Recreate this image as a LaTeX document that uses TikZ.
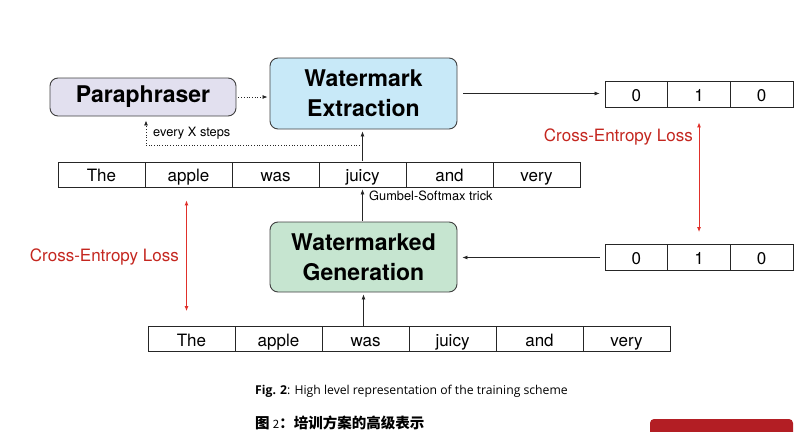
\documentclass[tikz,border=0pt]{standalone}
\usepackage{fontspec}
\setmainfont{TeX Gyre Heros}
\newfontfamily\capfont{Open Sans}
\newfontfamily\cjkfont{Noto Sans CJK SC}
\usetikzlibrary{arrows.meta,positioning,calc}
\definecolor{paraviolet}{HTML}{E2E0EF}
\definecolor{extractblue}{HTML}{C8E9F8}
\definecolor{gengreen}{HTML}{C6E5D0}
\definecolor{lossred}{HTML}{C4261F}
\definecolor{arrowred}{HTML}{E0302A}
\definecolor{btnred}{HTML}{B31E24}
\tikzset{
  modelbox/.style={draw=black!75,line width=0.9pt,rounded corners=8pt,align=center,
    minimum width=187,inner sep=2,font=\fontsize{23}{30}\selectfont\bfseries},
  tokencell/.style={draw=black!85,line width=0.8pt,minimum width=87,minimum height=25,
    inner sep=0,text height=15,text depth=0.5,font=\fontsize{17}{20}\selectfont},
  bitcell/.style={tokencell,minimum width=62.67,minimum height=26},
  thinarrow/.style={-{Latex[length=5pt,width=4pt]},line width=0.7pt,draw=black!85},
  dotarrow/.style={thinarrow,dotted,line width=0.8pt},
  lossarrow/.style={{Latex[length=5pt,width=4pt]}-{Latex[length=5pt,width=4pt]},
    line width=0.9pt,draw=arrowred},
  losslabel/.style={text=lossred,font=\fontsize{17}{20}\selectfont,inner sep=0},
  smalllabel/.style={font=\fontsize{12.8}{14}\selectfont,inner sep=0}
}
\begin{document}
\begin{tikzpicture}[x=1pt,y=-1pt]
  \useasboundingbox (0,0) rectangle (808,431);
  \clip (0,0) rectangle (808,431);
  % models
  \node[modelbox,fill=paraviolet,minimum width=186,minimum height=38] (para) at (143,97) {Paraphraser};
  \node[modelbox,fill=extractblue,minimum height=71] (extr) at (363.5,93.5) {Watermark\\Extraction};
  \node[modelbox,fill=gengreen,minimum height=70] (gen) at (363.5,257) {Watermarked\\Generation};
  % token rows
  \foreach \w [count=\i] in {The,apple,was,juicy,and,very}
    \node[tokencell] (top\i) at (14.5+87*\i,174.5) {\w};
  \foreach \w [count=\i] in {The,apple,was,juicy,and,very}
    \node[tokencell] (bot\i) at (104.5+87*\i,339) {\w};
  % bit vectors
  \foreach \b [count=\i] in {0,1,0} {
    \node[bitcell] (bitA\i) at (573.67+62.67*\i,94) {\b};
    \node[bitcell] (bitB\i) at (573.67+62.67*\i,257.5) {\b};
  }
  % connectors
  \draw[dotarrow,shorten <=2,shorten >=2] (para.east) -- (para.east -| extr.west);
  \draw[thinarrow,shorten <=6,shorten >=5] (extr.east) -- (extr.east -| bitA1.west);
  \draw[thinarrow,shorten <=1,shorten >=2] (top4.north) -- (top4.north |- extr.south);
  \coordinate (split) at ($(top4.north)!0.5!(top4.north |- extr.south)$);
  \draw[dotarrow,shorten >=4] (split) -| ([xshift=3]para.south);
  \node[smalllabel,anchor=west] (every) at (153,133) {every X steps};
  \draw[thinarrow,shorten <=1,shorten >=2] (gen.north -| top4.south) -- (top4.south);
  \node[smalllabel,anchor=west] (gumbel) at (369,196) {Gumbel-Softmax trick};
  \draw[thinarrow,shorten >=2] (bot4.north -| gen.south) -- (gen.south);
  \draw[thinarrow,shorten <=5,shorten >=5] (bitB1.west) -- (bitB1.west -| gen.east);
  % losses
  \draw[lossarrow,shorten <=15,shorten >=12] (bitA2.south) -- (bitB2.north);
  \node[losslabel,anchor=east] (lossR) at (693,137) {Cross-Entropy Loss};
  \draw[lossarrow,shorten <=13,shorten >=15] ([xshift=-2]top2.south) -- ([xshift=-2]top2.south |- bot1.north);
  \node[losslabel,anchor=east] (lossL) at (179,257) {Cross-Entropy Loss};
  % captions
  \node[anchor=west,inner sep=0,font=\capfont\fontsize{12.2}{14}\selectfont] (cap) at (255,391)
    {\textbf{Fig. 2}: High level representation of the training scheme};
  \node[anchor=west,inner sep=0,font=\cjkfont\fontsize{14.5}{16}\selectfont] (capzh) at (255,423)
    {\textbf{图} {\fontsize{11.5}{13}\selectfont 2}\textbf{：培训方案的高级表示}};
  \fill[btnred,rounded corners=4] (650,419) rectangle (793,450);
\end{tikzpicture}
\end{document}
